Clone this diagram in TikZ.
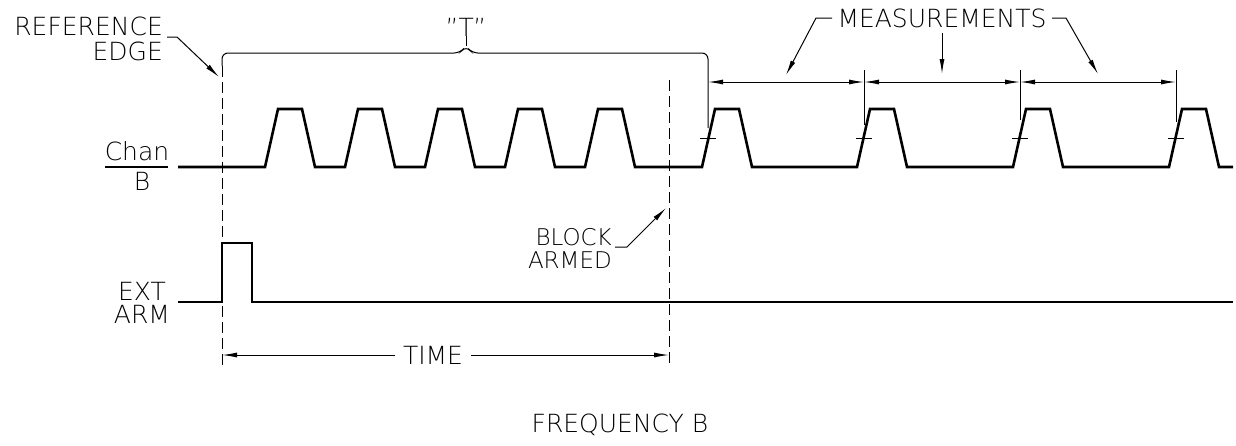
\documentclass[tikz,border=0pt]{standalone}
\usepackage{fontspec}
\setmainfont{DejaVu Sans ExtraLight}
\usetikzlibrary{arrows.meta}
\begin{document}
\begin{tikzpicture}[x=1pt,y=-1pt,
  sig/.style={line width=2.6pt, line join=miter},
  thinl/.style={line width=1pt},
  dsh/.style={line width=1pt, dash pattern=on 11pt off 5pt},
  tipend/.style={line width=1pt, -{Latex[length=15pt,width=5pt]}},
  dimline/.style={line width=1pt, {Latex[length=15pt,width=5pt]}-{Latex[length=15pt,width=5pt]}},
  lbl/.style={inner sep=0pt, font=\fontsize{25}{27}\selectfont},
  slbl/.style={inner sep=0pt, font=\fontsize{23}{25}\selectfont},
]
\useasboundingbox (0,0) rectangle (1236,445);

% ---------- labels ----------
\node[lbl, anchor=base east] (ref) at (163,35) {REFERENCE};
\node[lbl, anchor=base east] (edge) at (163,60) {EDGE};
\node[lbl, anchor=base] (tlbl) at (466,36) {"T"};
\node[lbl, anchor=base] (meas) at (942,27) {MEASUREMENTS};
\node[lbl, anchor=base] (chan) at (137,160) {Chan};
\node[lbl, anchor=base] (chb) at (142,190) {B};
\node[lbl, anchor=base] (ext) at (142,300) {EXT};
\node[lbl, anchor=base] (arm) at (142,323) {ARM};
\node[slbl, anchor=base east] (block) at (612,245) {BLOCK};
\node[slbl, anchor=base east] (armed) at (612,268) {ARMED};
\node[lbl, anchor=base] (freq) at (620,432) {FREQUENCY B};

% ---------- coordinates ----------
\coordinate (fracL) at (105,167);
\coordinate (fracR) at (168,167);
\coordinate (refA) at (167,37);
\coordinate (refB) at (177,37);
\coordinate (refT) at (219,77);
\coordinate (blkA) at (615,247);
\coordinate (blkB) at (627,247);
\coordinate (blkT) at (666,208);
\coordinate (mlA) at (832,18);
\coordinate (mlB) at (816,18);
\coordinate (mlT) at (786,75);
\coordinate (mmA) at (942,33);
\coordinate (mmT) at (942,74);
\coordinate (mrA) at (1052,18);
\coordinate (mrB) at (1066,18);
\coordinate (mrT) at (1098,74);
\coordinate (dL1) at (222,66);
\coordinate (dL2) at (222,367);
\coordinate (dR1) at (669,80);
\coordinate (dR2) at (669,367);
\coordinate (timeL) at (222,355);
\coordinate (timeR) at (669,355);
\coordinate (e1) at (708,82);
\coordinate (e2) at (864,82);
\coordinate (e3) at (1020,82);
\coordinate (e4) at (1176,82);

% ---------- Chan B fraction line ----------
\draw[line width=1.3pt] (fracL) -- (fracR);

% ---------- waveforms ----------
\draw[sig] (178,167)
  \foreach \s in {265,345,425,505,585,702,857,1013,1169} {
    -- (\s,167) -- (\s+13,109) -- (\s+37,109) -- (\s+50,167) }
  -- (1233,167);
\draw[sig] (178,302) -- (222,302) -- (222,243) -- (252,243) -- (252,302) -- (1233,302);

% ---------- brace "T" ----------
\draw[thinl, rounded corners=6pt] (dL1) -- (222,53) -- (460,53) -- (466,46) -- (472,53) -- (708,53) -- (708,128);
\draw[thinl] (466,46) -- (tlbl.base);

% ---------- dashed reference lines ----------
\draw[dsh] (dL1) -- (dL2);
\draw[dsh] (dR1) -- (dR2);

% ---------- TIME dimension ----------
\draw[dimline] (timeL) -- (timeR);
\node[lbl, fill=white, inner xsep=8pt] (time) at (433,355) {TIME};

% ---------- measurement extension lines and ticks ----------
\draw[thinl] (864,70) -- (864,125);
\draw[thinl] (1020,70) -- (1020,120);
\draw[thinl] (1176,70) -- (1176,122);
\foreach \x in {708,864,1020,1176} {
  \draw[thinl] (\x-8,138) -- (\x+8,138);
}
\draw[dimline] (e1) -- (e2);
\draw[dimline] (e2) -- (e3);
\draw[dimline] (e3) -- (e4);

% ---------- leaders ----------
\draw[tipend] (refA) -- (refB) -- (refT);
\draw[tipend] (blkA) -- (blkB) -- (blkT);
\draw[tipend] (mlA) -- (mlB) -- (mlT);
\draw[tipend] (mmA) -- (mmT);
\draw[tipend] (mrA) -- (mrB) -- (mrT);
\end{tikzpicture}
\end{document}
